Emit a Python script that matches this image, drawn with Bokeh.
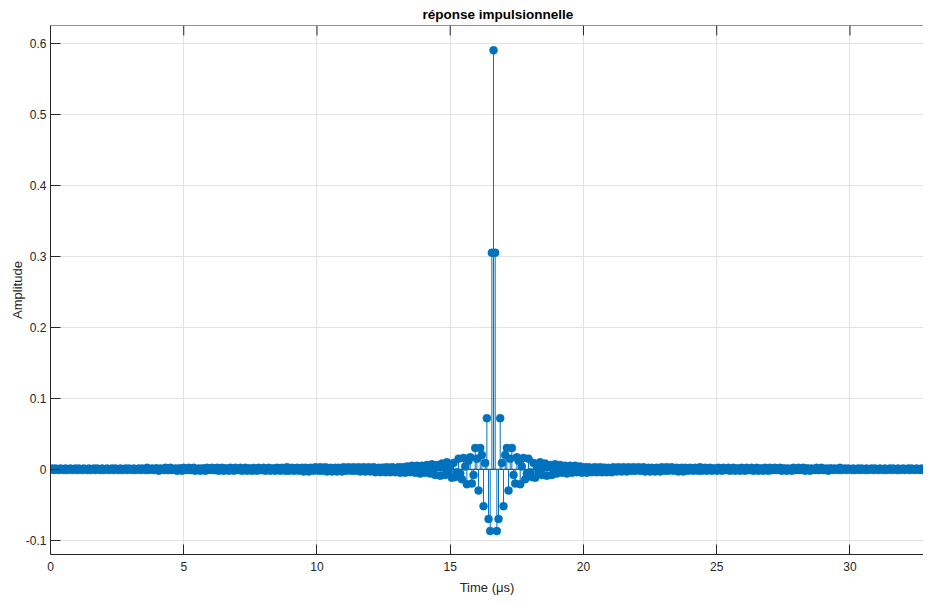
from bokeh.plotting import figure
from bokeh.models import (ColumnDataSource, FixedTicker, CustomJSTickFormatter,
                          Span, Range1d)
from bokeh.embed import file_html
from bokeh.resources import INLINE

# ---- data -----------------------------------------------------------------
# sample period of the response (microseconds)
dt_us = 0.0625

# one-sided impulse response, from the peak outwards (the response is symmetric)
center_vals = [
    0.590, 0.305, -0.087, -0.070, 0.072, 0.009, -0.052, 0.020, 0.030, -0.030,
    0.015, 0.030, -0.008, -0.020, 0.017, 0.012, -0.021, 0.004, 0.016, -0.014,
    -0.006, 0.015, -0.004, -0.011, 0.009, -0.012, 0.005, -0.003, 0.010, -0.008,
    0.002, 0.008, -0.009, 0.003, 0.006, -0.008, 0.001, 0.007, -0.006, -0.002,
    0.006,
]
tail_vals = [
    -0.005, 0.004, 0.005, -0.006, 0.002, 0.005, -0.005, -0.001, 0.005, -0.004,
    0.001, 0.004, -0.005, 0.002, 0.003, -0.005, 0.003, 0.002, -0.004, 0.002,
    0.003, -0.004, 0.001, 0.003, -0.004, 0.002, 0.002, -0.004, 0.002, 0.001,
    -0.004, 0.003, 0.001, -0.003, 0.003, 0.000, -0.003, 0.003, -0.001, -0.003,
    0.003, -0.001, -0.002, 0.003, -0.002, -0.001, 0.003, -0.002, -0.001, 0.003,
    -0.003, 0.001, 0.002, -0.003, 0.002, 0.001, -0.003, 0.002, 0.000, -0.003,
    0.003, -0.001, -0.002, 0.003, -0.002, -0.001, 0.003, -0.002, 0.000, 0.002,
    -0.003, 0.001, 0.002, -0.003, 0.002, 0.001, -0.002, 0.002, -0.001, -0.002,
    0.002, -0.001, -0.002, 0.003, -0.002, 0.000, 0.002, -0.002, 0.001, 0.002,
    -0.002, 0.001, 0.001, -0.002, 0.002, 0.000, -0.002, 0.002, -0.001, -0.001,
    0.002, -0.002, 0.000, 0.002, -0.002, 0.001, 0.001, -0.002, 0.002, 0.000,
    -0.002, 0.002, -0.001, -0.001, 0.002, -0.002, 0.000, 0.002, -0.002, 0.001,
    0.001, -0.002, 0.002, 0.000, -0.002, 0.002, -0.001, -0.001, 0.002, -0.001,
    0.000, 0.002, -0.002, 0.001, 0.001, -0.002, 0.001, 0.000, -0.002, 0.002,
    -0.001, -0.001, 0.002, -0.001, 0.000, 0.002, -0.002, 0.001, 0.001, -0.002,
    0.001, 0.000, -0.001, 0.002, -0.001, -0.001, 0.002, -0.001, 0.000, 0.001,
    -0.002, 0.001, 0.001, -0.001, 0.001, 0.000, -0.001, 0.002, -0.001, 0.000,
    0.001, -0.001, 0.001, 0.000, -0.001, 0.001, -0.001, 0.000, 0.001, -0.001,
    0.001, 0.000, -0.001, 0.001, -0.001, 0.000, 0.001, -0.001, 0.001, 0.000,
    -0.001, 0.001, 0.000, -0.001, 0.001, -0.001, 0.000, 0.001, -0.001, 0.001,
    0.000, -0.001, 0.001, -0.001, 0.000, 0.001, -0.001, 0.000, 0.001, -0.001,
    0.001, 0.000, -0.001, 0.001, 0.000, -0.001, 0.001, -0.001, 0.000, 0.001,
    -0.001, 0.000, 0.001, -0.001, 0.001, 0.000,
]

x_ticks = [0, 5, 10, 15, 20, 25, 30]
y_ticks = [-0.1, 0.0, 0.1, 0.2, 0.3, 0.4, 0.5, 0.6]

title_text = "réponse impulsionnelle"
x_label = "Time (μs)"
y_label = "Amplitude"

# ---- build the series ------------------------------------------------------
half = center_vals + tail_vals
h = half[::-1] + half[1:]
t = [i * dt_us for i in range(len(h))]
base = [0.0] * len(h)

src = ColumnDataSource(dict(t=t, h=h, base=base))

BLUE = "#0072BD"
AX = "#262626"
FONT = "Liberation Sans"

X0, X1 = 0.0, 32.76
Y0, Y1 = -0.12, 0.625
W, H = 923, 597
BL, BR, BT, BB = 50, 0, 25, 42
FRAME_H = H - BT - BB
TICK_PX = 10

p = figure(width=W, height=H,
           x_range=Range1d(X0, X1), y_range=Range1d(Y0, Y1),
           output_backend="svg", toolbar_location=None,
           min_border_left=BL, min_border_right=BR,
           min_border_top=BT, min_border_bottom=BB)

p.background_fill_color = "white"
p.border_fill_color = "white"
p.outline_line_color = None

# title
p.title.text = title_text
p.title.align = "left"
p.title.offset = 372
p.title.text_font = FONT
p.title.text_font_style = "bold"
p.title.text_font_size = "13.5px"
p.title.text_color = "#000000"
p.title.standoff = 7

# axes
for ax in (p.xaxis[0], p.yaxis[0]):
    ax.axis_line_color = AX
    ax.major_tick_line_color = AX
    ax.major_tick_in = TICK_PX
    ax.major_tick_out = 0
    ax.minor_tick_line_color = None
    ax.major_label_text_font = FONT
    ax.major_label_text_font_size = "12px"
    ax.major_label_text_color = AX
    ax.axis_label_text_font = FONT
    ax.axis_label_text_font_size = "13px"
    ax.axis_label_text_font_style = "normal"
    ax.axis_label_text_color = AX

p.xaxis.ticker = FixedTicker(ticks=x_ticks)
p.yaxis.ticker = FixedTicker(ticks=y_ticks)
p.yaxis.formatter = CustomJSTickFormatter(
    code="return Math.abs(tick) < 1e-9 ? '0' : tick.toFixed(1);")
p.xaxis.axis_label = x_label
p.yaxis.axis_label = y_label
p.xaxis.major_label_standoff = 7
p.xaxis.axis_label_standoff = 6
p.yaxis.major_label_standoff = 4
p.yaxis.axis_label_standoff = -2

# grid
p.xgrid.ticker = FixedTicker(ticks=x_ticks)
p.ygrid.ticker = FixedTicker(ticks=y_ticks)
for g in (p.xgrid[0], p.ygrid[0]):
    g.grid_line_color = "#e2e2e2"
    g.grid_line_width = 1

# top edge of the box, with mirrored inward ticks
p.add_layout(Span(location=Y1, dimension="width", line_color=AX, line_width=1))
tick_len = TICK_PX * (Y1 - Y0) / FRAME_H
p.segment(x0=x_ticks, y0=[Y1] * len(x_ticks), x1=x_ticks,
          y1=[Y1 - tick_len] * len(x_ticks), line_color=AX, line_width=1)

# baseline
p.add_layout(Span(location=0, dimension="width", line_color=AX,
                  line_width=1, level="underlay"))

# stems + markers
p.segment(x0="t", y0="base", x1="t", y1="h", source=src,
          line_color=BLUE, line_width=1)
p.scatter(x="t", y="h", source=src, size=8, marker="circle",
          fill_color=BLUE, line_color=BLUE, line_width=0.5)

open("out.html", "w").write(file_html(p, INLINE))
